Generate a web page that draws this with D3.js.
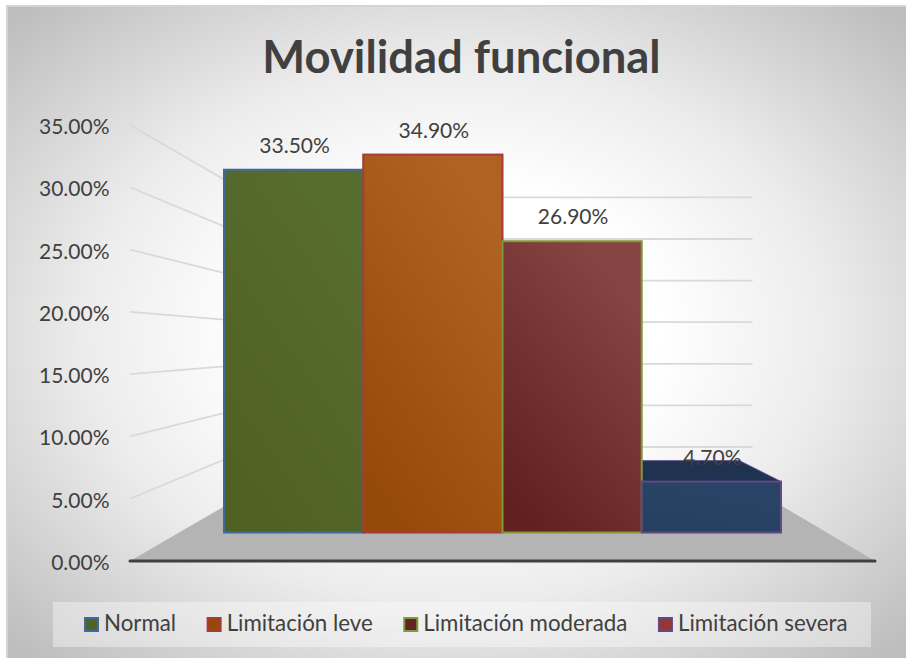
<!DOCTYPE html>
<html>
<head>
<meta charset="utf-8">
<script src="https://cdn.jsdelivr.net/npm/d3@7/dist/d3.min.js"></script>
<style>
html,body{margin:0;padding:0;background:#fff;overflow:hidden}
svg{display:block}
text{font-family:Lato,"Open Sans",sans-serif;fill:#404040}
</style>
</head>
<body>
<svg id="c" width="906" height="658"></svg>
<script>
const title = "Movilidad funcional";
const categories = ["Normal", "Limitación leve", "Limitación moderada", "Limitación severa"];
const values = [33.5, 34.9, 26.9, 4.7];
const axisTicks = [0, 5, 10, 15, 20, 25, 30, 35];
const faceTop = ["#576c2f", "#b06222", "#864442", "#294466"];
const faceBottom = ["#4f6122", "#964a07", "#62211f", "#254061"];
const topFace = ["#3a4a1c", "#7a3d05", "#4a1917", "#1f3350"];
const barStroke = ["#3f6a9e", "#a33c3a", "#7f9a3c", "#5f4a85"];
const swatchFill = ["#4f6228", "#984807", "#632523", "#953735"];

const svg = d3.select("#c");
const defs = svg.append("defs");
const bg = defs.append("radialGradient").attr("id", "bg")
  .attr("gradientUnits", "userSpaceOnUse").attr("cx", 0).attr("cy", 0).attr("r", 1)
  .attr("gradientTransform", "translate(456 332) scale(620 450)");
[[0, "#ffffff"], [0.33, "#ffffff"], [0.6, "#ececec"], [1, "#bdbdbd"]].forEach(([o, c]) =>
  bg.append("stop").attr("offset", o).attr("stop-color", c));
categories.forEach((_, i) => {
  const g = defs.append("linearGradient").attr("id", "f" + i)
    .attr("x1", 0.1).attr("y1", 0.9).attr("x2", 0.6).attr("y2", 0);
  g.append("stop").attr("offset", 0).attr("stop-color", faceBottom[i]);
  g.append("stop").attr("offset", 1).attr("stop-color", faceTop[i]);
});

// frame
svg.append("rect").attr("x", 7).attr("y", 6).attr("width", 899).attr("height", 652).attr("fill", "url(#bg)");
svg.append("line").attr("x1", 6).attr("x2", 906).attr("y1", 6).attr("y2", 6).attr("stroke", "#d4d4d4").attr("stroke-width", 2);
svg.append("line").attr("x1", 7).attr("x2", 7).attr("y1", 6).attr("y2", 658).attr("stroke", "#d4d4d4").attr("stroke-width", 2);

// projection
const vanish = {x: 506, y: 343};
const wallDepth = 0.332, barDepth = 0.151;
const toward = (x, y, t) => [x + (vanish.x - x) * t, y + (vanish.y - y) * t];
const yAxisScale = d3.scaleLinear().domain([0, 35]).range([561, 125]);
const yBar = d3.scaleLinear().domain([0, 35]).range([532.5, 153.5]);
const xFloor = d3.scaleLinear().domain([0, 1]).range([130, 875]);
const xBar = d3.scaleBand().domain(categories).range([224, 781]);
const line = d3.line();

// floor
const floorPts = [[xFloor(0), yAxisScale(0)], [xFloor(1), yAxisScale(0)],
  toward(xFloor(1), yAxisScale(0), wallDepth), toward(xFloor(0), yAxisScale(0), wallDepth)];
svg.append("path").attr("d", line(floorPts) + "Z").attr("fill", "#b4b4b4");

// walls
const grid = svg.append("g").attr("fill", "none").attr("stroke", "#d9d9d9").attr("stroke-width", 1.8);
axisTicks.filter(d => d > 0).forEach(d => {
  const a = [xFloor(0), yAxisScale(d)];
  const b = toward(a[0], a[1], wallDepth);
  const c = [toward(xFloor(1), yAxisScale(d), wallDepth)[0], b[1]];
  grid.append("path").attr("d", line([a, b, c]));
});

// axis labels
svg.append("g").selectAll("text").data(axisTicks).join("text")
  .attr("x", 109.5).attr("y", d => yAxisScale(d) + 9)
  .attr("text-anchor", "end").attr("font-size", 21)
  .text(d => d3.format(".2f")(d) + "%");

// bars
const bars = svg.append("g");
categories.forEach((c, i) => {
  const x0 = xBar(c), x1 = x0 + xBar.bandwidth(), y = yBar(values[i]);
  if (y > vanish.y) {
    const pts = [[x0, y], [x1, y], toward(x1, y, barDepth), toward(x0, y, barDepth)];
    bars.append("path").attr("d", line(pts) + "Z").attr("fill", topFace[i])
      .attr("stroke", barStroke[i]).attr("stroke-width", 1);
  }
});
categories.forEach((c, i) => {
  bars.append("rect").attr("x", xBar(c)).attr("y", yBar(values[i]))
    .attr("width", xBar.bandwidth()).attr("height", yBar(0) - yBar(values[i]))
    .attr("fill", `url(#f${i})`).attr("stroke", barStroke[i]).attr("stroke-width", 2);
});

// baseline
svg.append("line").attr("x1", xFloor(0)).attr("x2", xFloor(1))
  .attr("y1", yAxisScale(0)).attr("y2", yAxisScale(0))
  .attr("stroke", "#404040").attr("stroke-width", 3).attr("stroke-linecap", "round");

// data labels
svg.append("g").selectAll("text").data(categories).join("text")
  .attr("x", c => xBar(c) + xBar.bandwidth() / 2 + 1)
  .attr("y", (c, i) => yBar(values[i]) - 17)
  .attr("text-anchor", "middle").attr("font-size", 21)
  .text((c, i) => d3.format(".2f")(values[i]) + "%");

// title
svg.append("text").attr("x", 461.5).attr("y", 73).attr("text-anchor", "middle")
  .attr("font-size", 45.4).attr("font-weight", 700).text(title);

// legend
svg.append("rect").attr("x", 53).attr("y", 602).attr("width", 818).attr("height", 45)
  .attr("fill", "#ffffff").attr("fill-opacity", 0.38);
let lx = 85;
categories.forEach((c, i) => {
  svg.append("rect").attr("x", lx).attr("y", 618).attr("width", 13).attr("height", 13)
    .attr("fill", swatchFill[i]).attr("stroke", barStroke[i]).attr("stroke-width", 2);
  const t = svg.append("text").attr("x", lx + 19).attr("y", 631).attr("font-size", 22.3).text(c);
  lx += 19 + t.node().getComputedTextLength() + 31.5;
});
</script>
</body>
</html>
